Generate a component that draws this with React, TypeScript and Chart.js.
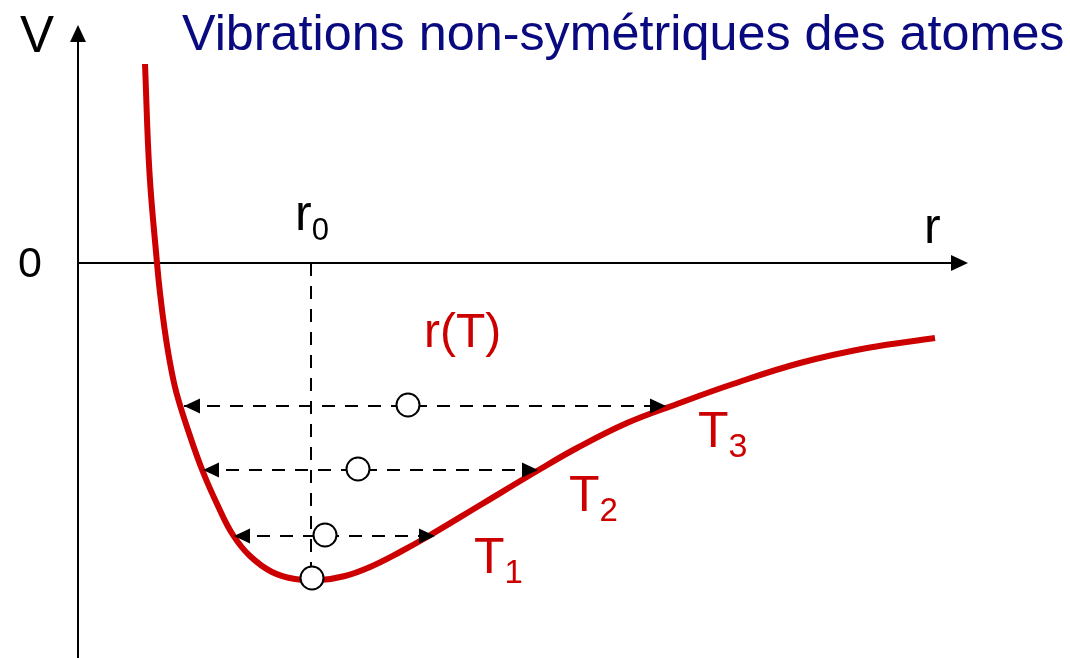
import React, { useEffect, useRef } from "react";
import { Chart, registerables } from "chart.js";

Chart.register(...registerables);

// Potential curve V(r) (arbitrary units)
const curveR = [0.67, 0.715, 0.79, 0.82, 0.863, 0.915, 0.985, 1.12, 1.25, 1.4, 1.55, 1.72, 1.94, 2.17, 2.42, 2.67, 2.92, 3.22, 3.49, 4.04, 4.59, 4.99, 5.49, 5.99, 6.55, 7.22, 7.89, 8.57];
const curveV = [1.99, 0.9, 0.0, -0.3, -0.64, -0.97, -1.3, -1.73, -2.09, -2.43, -2.72, -2.93, -3.09, -3.16, -3.17, -3.13, -3.04, -2.89, -2.74, -2.41, -2.08, -1.85, -1.6, -1.41, -1.21, -1.0, -0.85, -0.75];

// Vibration levels T3, T2, T1 (dashed double arrows)
const levelV = [-1.43, -2.07, -2.73];
const leftR = [1.06, 1.25, 1.56];
const rightR = [5.88, 4.6, 3.57];

// Mean positions r(T) (circles), last one = minimum at r0
const circleR = [3.3, 2.8, 2.47, 2.34];
const circleV = [-1.42, -2.06, -2.72, -3.15];

const r0 = 2.33;
const minV = -3.15;

// Axis extents
const rMin = -0.78;
const rMax = 9.92;
const vMin = -3.95;
const vMax = 2.63;
const axisRTip = 8.9;
const axisVTip = 2.38;

const RED = "#cc0000";
const NAVY = "#0a0a80";
const FONT = '"Liberation Sans", Arial, Helvetica, sans-serif';

type Label = { main: string; sub?: string; r: number; v: number; size: number; subSize?: number; color: string };

const labels: Label[] = [
  { main: "V", r: -0.58, v: 2.11, size: 51, color: "#000" },
  { main: "0", r: -0.6, v: -0.14, size: 43, color: "#000" },
  { main: "r", sub: "0", r: 2.17, v: 0.33, size: 50, subSize: 31, color: "#000" },
  { main: "r", r: 8.46, v: 0.2, size: 50, color: "#000" },
  { main: "r(T)", r: 3.46, v: -0.84, size: 48, color: RED },
  { main: "T", sub: "1", r: 3.96, v: -3.1, size: 50, subSize: 33, color: RED },
  { main: "T", sub: "2", r: 4.91, v: -2.48, size: 50, subSize: 33, color: RED },
  { main: "T", sub: "3", r: 6.2, v: -1.84, size: 50, subSize: 34, color: RED },
  { main: "Vibrations non-symétriques des atomes", r: 1.04, v: 2.13, size: 50.3, color: NAVY },
];

function arrowHead(ctx: CanvasRenderingContext2D, tx: number, ty: number, dir: string, len: number, half: number) {
  ctx.beginPath();
  if (dir === "right") {
    ctx.moveTo(tx, ty);
    ctx.lineTo(tx - len, ty - half);
    ctx.lineTo(tx - len, ty + half);
  } else if (dir === "left") {
    ctx.moveTo(tx, ty);
    ctx.lineTo(tx + len, ty - half);
    ctx.lineTo(tx + len, ty + half);
  } else {
    ctx.moveTo(tx, ty);
    ctx.lineTo(tx - half, ty + len);
    ctx.lineTo(tx + half, ty + len);
  }
  ctx.closePath();
  ctx.fill();
}

const diagramPlugin = {
  id: "diagram",
  beforeDatasetsDraw(chart: any) {
    const { ctx, scales } = chart;
    const x = scales.x;
    const y = scales.y;
    ctx.save();
    ctx.strokeStyle = "#000";
    ctx.fillStyle = "#000";
    ctx.lineWidth = 2;
    const x0 = x.getPixelForValue(0);
    const y0 = y.getPixelForValue(0);
    const xTip = x.getPixelForValue(axisRTip);
    const yTip = y.getPixelForValue(axisVTip);
    const yBottom = y.getPixelForValue(vMin);
    ctx.beginPath();
    ctx.moveTo(x0, y0);
    ctx.lineTo(xTip - 10, y0);
    ctx.stroke();
    arrowHead(ctx, xTip, y0, "right", 17, 8);
    ctx.beginPath();
    ctx.moveTo(x0, yBottom);
    ctx.lineTo(x0, yTip + 10);
    ctx.stroke();
    arrowHead(ctx, x0, yTip, "up", 17, 8);
    ctx.restore();
  },
  afterDatasetsDraw(chart: any) {
    const { ctx, scales } = chart;
    const x = scales.x;
    const y = scales.y;
    ctx.save();
    ctx.fillStyle = "#000";
    for (let i = 0; i < levelV.length; i++) {
      const py = y.getPixelForValue(levelV[i]);
      arrowHead(ctx, x.getPixelForValue(leftR[i]), py, "left", 16, 7.5);
      arrowHead(ctx, x.getPixelForValue(rightR[i]), py, "right", 16, 7.5);
    }
    ctx.restore();
  },
  afterDraw(chart: any) {
    const { ctx, scales } = chart;
    const x = scales.x;
    const y = scales.y;
    ctx.save();
    ctx.textBaseline = "alphabetic";
    ctx.textAlign = "left";
    for (const l of labels) {
      const px = x.getPixelForValue(l.r);
      const py = y.getPixelForValue(l.v);
      ctx.fillStyle = l.color;
      ctx.font = `${l.size}px ${FONT}`;
      ctx.fillText(l.main, px, py);
      if (l.sub) {
        const w = ctx.measureText(l.main).width;
        ctx.font = `${l.subSize}px ${FONT}`;
        ctx.fillText(l.sub, px + w, py + 10);
      }
    }
    ctx.restore();
  },
};

export default function App() {
  const ref = useRef<HTMLCanvasElement | null>(null);

  useEffect(() => {
    document.body.style.margin = "0";
    const canvas = ref.current;
    if (!canvas) return;

    const arrowSets = levelV.map((v, i) => ({
      data: [
        { x: leftR[i], y: v },
        { x: rightR[i], y: v },
      ],
      borderColor: "#000",
      borderWidth: 2,
      borderDash: [13, 10],
      pointRadius: 0,
      fill: false,
      order: 2,
    }));

    const chart = new Chart(canvas, {
      type: "line",
      data: {
        datasets: [
          {
            data: circleR.map((r, i) => ({ x: r, y: circleV[i] })),
            showLine: false,
            pointRadius: 11.5,
            pointBackgroundColor: "#fff",
            pointBorderColor: "#000",
            pointBorderWidth: 2,
            order: 0,
          },
          {
            data: curveR.map((r, i) => ({ x: r, y: curveV[i] })),
            borderColor: RED,
            borderWidth: 6,
            pointRadius: 0,
            tension: 0.4,
            borderCapStyle: "butt",
            borderJoinStyle: "round",
            fill: false,
            order: 1,
          },
          ...arrowSets,
          {
            data: [
              { x: r0, y: 0 },
              { x: r0, y: minV },
            ],
            borderColor: "#000",
            borderWidth: 2,
            borderDash: [13, 10],
            pointRadius: 0,
            fill: false,
            order: 3,
          },
        ] as any,
      },
      options: {
        responsive: false,
        animation: false,
        devicePixelRatio: 1,
        layout: { padding: 0, autoPadding: false },
        plugins: {
          legend: { display: false },
          tooltip: { enabled: false },
          title: { display: false },
        },
        scales: {
          x: { type: "linear", min: rMin, max: rMax, display: false },
          y: { type: "linear", min: vMin, max: vMax, display: false },
        },
        events: [],
      },
      plugins: [diagramPlugin],
    });
    return () => chart.destroy();
  }, []);

  return (
    <div style={{ width: 1070, height: 658, background: "#fff" }}>
      <canvas ref={ref} width={1070} height={658} style={{ display: "block" }} />
    </div>
  );
}
